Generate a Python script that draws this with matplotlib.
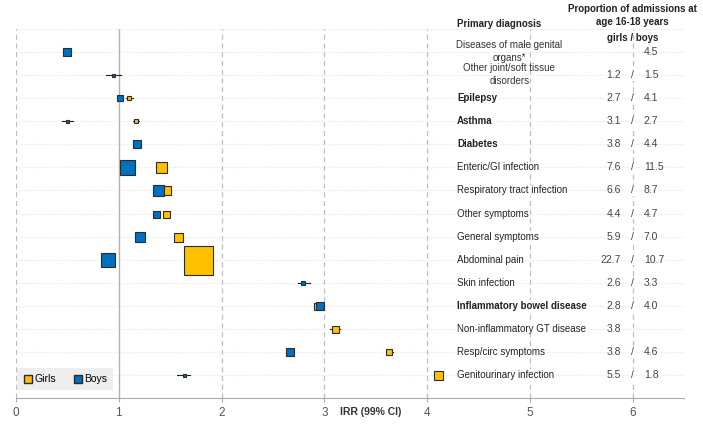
import numpy as np
import matplotlib
matplotlib.use("Agg")
import matplotlib.pyplot as plt

plt.rcParams['font.family'] = ['Liberation Sans', 'DejaVu Sans']

# rows from top to bottom
diagnoses = [
    "Diseases of male genital\norgans*",
    "Other joint/soft tissue\ndisorders",
    "Epilepsy",
    "Asthma",
    "Diabetes",
    "Enteric/GI infection",
    "Respiratory tract infection",
    "Other symptoms",
    "General symptoms",
    "Abdominal pain",
    "Skin infection",
    "Inflammatory bowel disease",
    "Non-inflammatory GT disease",
    "Resp/circ symptoms",
    "Genitourinary infection",
]
bold_rows = ["Epilepsy", "Asthma", "Diabetes", "Inflammatory bowel disease"]
centered_rows = [0, 1]

nan = np.nan
girls_irr = [nan, nan, 1.10, 1.17, nan, 1.41, 1.46, 1.46, 1.58, 1.77, nan, 2.93, 3.10, 3.63, 4.11]
girls_lo = [nan, nan, 1.07, 1.14, nan, 1.41, 1.46, 1.46, 1.58, 1.77, nan, 2.90, 3.06, 3.60, 4.11]
girls_hi = [nan, nan, 1.14, 1.20, nan, 1.41, 1.46, 1.46, 1.58, 1.77, nan, 2.96, 3.15, 3.67, 4.11]
girls_weight = [0, 0, 4, 5, 0, 11, 9, 7, 9, 29, 0, 7, 7, 6, 9]

boys_irr = [0.50, 0.94, 1.01, 0.50, 1.18, 1.08, 1.38, 1.36, 1.21, 0.90, 2.79, 2.96, nan, 2.67, 1.63]
boys_lo = [0.46, 0.88, 0.99, 0.45, 1.14, 1.08, 1.38, 1.36, 1.21, 0.90, 2.74, 2.90, nan, 2.67, 1.57]
boys_hi = [0.54, 1.02, 1.04, 0.55, 1.22, 1.08, 1.38, 1.36, 1.21, 0.90, 2.86, 3.00, nan, 2.67, 1.69]
boys_weight = [8, 3, 6, 3, 8, 15, 11, 7, 10, 14, 5, 8, 0, 8, 3]

girls_prop = ["", "1.2", "2.7", "3.1", "3.8", "7.6", "6.6", "4.4", "5.9", "22.7", "2.6", "2.8", "3.8", "3.8", "5.5"]
boys_prop = ["4.5", "1.5", "4.1", "2.7", "4.4", "11.5", "8.7", "4.7", "7.0", "10.7", "3.3", "4.0", "", "4.6", "1.8"]

GIRLS = "#FFC000"
BOYS = "#0070C0"
EDGE = "#2b2b2b"
FS = 7

n = len(diagnoses)
ypos = np.arange(n, 0, -1)

fig = plt.figure(figsize=(7.03, 4.25), dpi=100)
ax = fig.add_axes([16 / 703, 1 - 398 / 425, 668 / 703, 369 / 425])
ax.set_xlim(0, 6.5)
ax.set_ylim(0, n + 1)

# grid
for y in range(1, n + 2):
    ax.axhline(y, color="#e4e4e4", lw=0.8, ls=(0, (1, 1.5)), zorder=0)
for x in [0, 2, 3, 4, 5, 6]:
    ax.axvline(x, color="#bdbdbd", lw=0.9, ls=(0, (4, 3)), zorder=0)
ax.axvline(1, color="#b0b0b0", lw=1.0, zorder=0)


def draw_group(irr, lo, hi, weight, color):
    for y, v, a, b, w in zip(ypos, irr, lo, hi, weight):
        if np.isnan(v):
            continue
        ax.plot([a, b], [y, y], color="#222222", lw=0.8, zorder=2)
        ax.plot(v, y, marker="s", ms=w * 0.72, mfc=color, mec=EDGE, mew=0.8, zorder=3)


draw_group(girls_irr, girls_lo, girls_hi, girls_weight, GIRLS)
draw_group(boys_irr, boys_lo, boys_hi, boys_weight, BOYS)

# text columns
txt_bg = dict(facecolor="white", edgecolor="none", pad=0.5)
for i, (y, name) in enumerate(zip(ypos, diagnoses)):
    weight = "bold" if name in bold_rows else "normal"
    if i in centered_rows:
        ax.text(4.8, y + 0.03, name, ha="center", va="center", fontsize=FS, color="#333333",
                linespacing=1.4, zorder=4)
    else:
        ax.text(4.29, y, name, ha="left", va="center", fontsize=FS, color="#222222",
                fontweight=weight, bbox=txt_bg, zorder=4)
    g, b = girls_prop[i], boys_prop[i]
    if g:
        ax.text(5.89, y, g, ha="right", va="center", fontsize=FS + 0.5, color="#444444", zorder=4)
    if b:
        ax.text(6.11, y, b, ha="left", va="center", fontsize=FS + 0.5, color="#444444", zorder=4)
    if g and b:
        ax.text(6.0, y, "/", ha="center", va="center", fontsize=FS + 0.5, color="#444444",
                bbox=txt_bg, zorder=4)

ax.text(4.29, n + 1.22, "Primary diagnosis", ha="left", va="center", fontsize=FS,
        fontweight="bold", color="#222222")
ax.text(6.0, n + 1.57, "Proportion of admissions at\nage 16-18 years", ha="center",
        va="center", fontsize=FS, fontweight="bold", color="#222222", linespacing=1.4)
ax.text(6.0, n + 0.61, "girls / boys", ha="center", va="center", fontsize=FS,
        fontweight="bold", color="#222222")

# axes styling
for s in ["top", "right", "left"]:
    ax.spines[s].set_visible(False)
ax.spines["bottom"].set_color("#aaaaaa")
ax.set_yticks([])
ax.set_xticks(range(0, 7))
ax.tick_params(axis="x", colors="#aaaaaa", labelcolor="#555555", labelsize=8.5, length=3)
ax.text(3.45, -0.6, "IRR (99% CI)", ha="center", va="center", fontsize=FS + 0.5,
        fontweight="bold", color="#333333")

# legend
hg, = ax.plot([], [], marker="s", ls="none", ms=6, mfc=GIRLS, mec=EDGE, label="Girls")
hb, = ax.plot([], [], marker="s", ls="none", ms=6, mfc=BOYS, mec=EDGE, label="Boys")
leg = ax.legend(handles=[hg, hb], loc="lower left", bbox_to_anchor=(0.002, 0.022), ncol=2,
                fontsize=FS + 0.5, frameon=True, facecolor="#eeeeee", edgecolor="none",
                fancybox=False, handletextpad=0.1, columnspacing=1.6, handlelength=1,
                borderpad=0.55, borderaxespad=0)
leg.get_frame().set_alpha(1)

fig.savefig("out.png", dpi=100)
